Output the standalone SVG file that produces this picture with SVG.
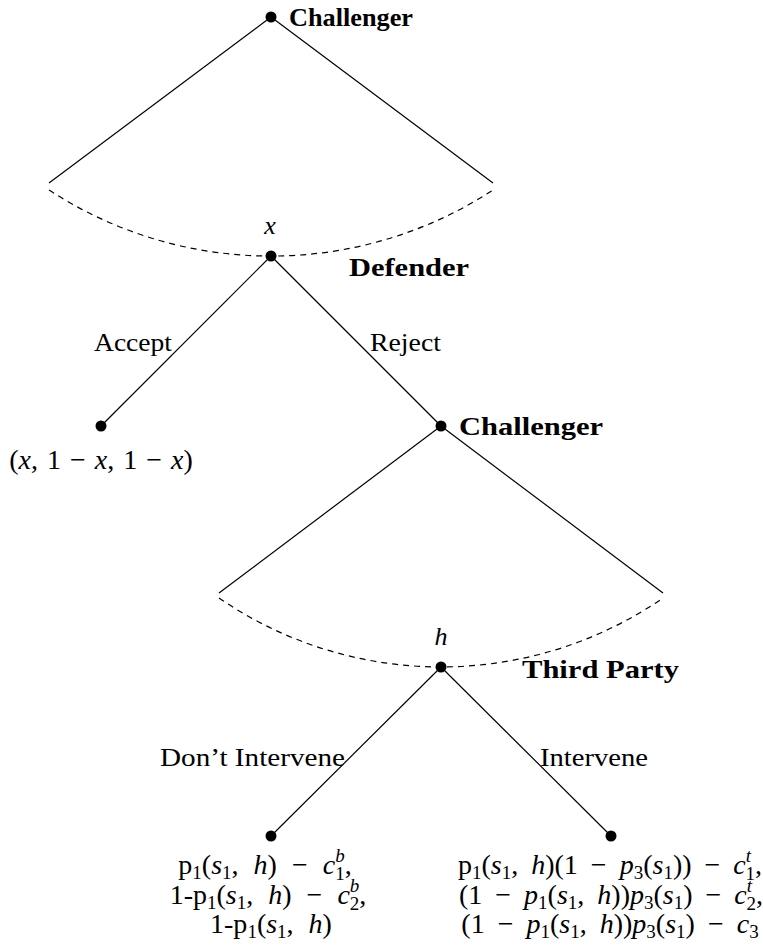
<svg xmlns="http://www.w3.org/2000/svg" width="763" height="949" viewBox="0 0 763 949">
<style>
.t{font-family:"Liberation Serif","DejaVu Serif",serif;font-size:26px;fill:#000}
.m{font-size:28px;word-spacing:6px}
.ml{word-spacing:8px}
.b{font-weight:bold;font-size:26px}
.i{font-style:italic}
.s{font-size:19px}
.e{stroke:#000;stroke-width:1.2;fill:none}
.d{stroke:#000;stroke-width:1.2;fill:none;stroke-dasharray:6 5}
.n{fill:#000}
</style>
<rect width="763" height="949" fill="#fff"/>
<g id="connectors">
<line class="e" x1="271" y1="17" x2="49" y2="183"/>
<line class="e" x1="271" y1="17" x2="493" y2="183"/>
<path class="d" d="M49 190 A406 406 0 0 0 493 190"/>
<line class="e" x1="271" y1="256" x2="101" y2="426"/>
<line class="e" x1="271" y1="256" x2="441" y2="426"/>
<line class="e" x1="441" y1="426" x2="219" y2="593"/>
<line class="e" x1="441" y1="426" x2="663" y2="593"/>
<path class="d" d="M219 598 A392 392 0 0 0 663 598"/>
<line class="e" x1="441" y1="667" x2="271" y2="836"/>
<line class="e" x1="441" y1="667" x2="611" y2="836"/>
<text class="t" x="94" y="351" textLength="78" lengthAdjust="spacingAndGlyphs">Accept</text>
<text class="t" x="370" y="351" textLength="71" lengthAdjust="spacingAndGlyphs">Reject</text>
<text class="t" x="160" y="766" textLength="185" lengthAdjust="spacingAndGlyphs">Don’t Intervene</text>
<text class="t" x="540" y="766" textLength="108" lengthAdjust="spacingAndGlyphs">Intervene</text>
</g>
<g id="n_root">
<circle class="n" cx="271" cy="17" r="5.5"/>
<text class="t b" x="289" y="26" textLength="124" lengthAdjust="spacingAndGlyphs">Challenger</text>
</g>
<g id="n_defender">
<text class="t i" x="270" y="234" text-anchor="middle">x</text>
<circle class="n" cx="271" cy="256" r="5.5"/>
<text class="t b" x="349" y="276" textLength="120" lengthAdjust="spacingAndGlyphs">Defender</text>
</g>
<g id="n_accept">
<circle class="n" cx="101" cy="426" r="5.5"/>
<text class="t m" x="101" y="469" text-anchor="middle" style="word-spacing:2px">(<tspan class="i">x</tspan>, 1 − <tspan class="i">x</tspan>, 1 − <tspan class="i">x</tspan>)</text>
</g>
<g id="n_challenger2">
<circle class="n" cx="441" cy="426" r="5.5"/>
<text class="t b" x="459" y="435" textLength="144" lengthAdjust="spacingAndGlyphs">Challenger</text>
</g>
<g id="n_third">
<text class="t i" x="441" y="645" text-anchor="middle">h</text>
<circle class="n" cx="441" cy="667" r="5.5"/>
<text class="t b" x="522" y="678" textLength="157" lengthAdjust="spacingAndGlyphs">Third Party</text>
</g>
<g id="n_dont">
<circle class="n" cx="271" cy="836" r="5.5"/>
<text class="t m ml" x="265" y="874" text-anchor="middle">p<tspan class="s" dy="5">1</tspan><tspan dy="-5">(</tspan><tspan class="i">s</tspan><tspan class="s" dy="5">1</tspan><tspan dy="-5">, </tspan><tspan class="i">h</tspan>) − <tspan class="i">c</tspan><tspan class="s i" dy="-12">b</tspan><tspan class="s" dx="-9.5" dy="18">1</tspan><tspan dy="-6">,</tspan></text>
<text class="t m ml" x="268" y="904" text-anchor="middle">1-p<tspan class="s" dy="5">1</tspan><tspan dy="-5">(</tspan><tspan class="i">s</tspan><tspan class="s" dy="5">1</tspan><tspan dy="-5">, </tspan><tspan class="i">h</tspan>) − <tspan class="i">c</tspan><tspan class="s i" dy="-12">b</tspan><tspan class="s" dx="-9.5" dy="18">2</tspan><tspan dy="-6">,</tspan></text>
<text class="t m ml" x="271" y="933" text-anchor="middle">1-p<tspan class="s" dy="5">1</tspan><tspan dy="-5">(</tspan><tspan class="i">s</tspan><tspan class="s" dy="5">1</tspan><tspan dy="-5">, </tspan><tspan class="i">h</tspan>)</text>
</g>
<g id="n_intervene">
<circle class="n" cx="611" cy="836" r="5.5"/>
<text class="t m" x="610" y="874" text-anchor="middle">p<tspan class="s" dy="5">1</tspan><tspan dy="-5">(</tspan><tspan class="i">s</tspan><tspan class="s" dy="5">1</tspan><tspan dy="-5">, </tspan><tspan class="i">h</tspan>)(1 − <tspan class="i">p</tspan><tspan class="s" dy="5">3</tspan><tspan dy="-5">(</tspan><tspan class="i">s</tspan><tspan class="s" dy="5">1</tspan><tspan dy="-5">)) − </tspan><tspan class="i">c</tspan><tspan class="s i" dy="-12">t</tspan><tspan class="s" dx="-5.5" dy="18">1</tspan><tspan dy="-6">,</tspan></text>
<text class="t m" x="611" y="904" text-anchor="middle">(1 − <tspan class="i">p</tspan><tspan class="s" dy="5">1</tspan><tspan dy="-5">(</tspan><tspan class="i">s</tspan><tspan class="s" dy="5">1</tspan><tspan dy="-5">, </tspan><tspan class="i">h</tspan>))<tspan class="i">p</tspan><tspan class="s" dy="5">3</tspan><tspan dy="-5">(</tspan><tspan class="i">s</tspan><tspan class="s" dy="5">1</tspan><tspan dy="-5">) − </tspan><tspan class="i">c</tspan><tspan class="s i" dy="-12">t</tspan><tspan class="s" dx="-5.5" dy="18">2</tspan><tspan dy="-6">,</tspan></text>
<text class="t m" x="610" y="933" text-anchor="middle">(1 − <tspan class="i">p</tspan><tspan class="s" dy="5">1</tspan><tspan dy="-5">(</tspan><tspan class="i">s</tspan><tspan class="s" dy="5">1</tspan><tspan dy="-5">, </tspan><tspan class="i">h</tspan>))<tspan class="i">p</tspan><tspan class="s" dy="5">3</tspan><tspan dy="-5">(</tspan><tspan class="i">s</tspan><tspan class="s" dy="5">1</tspan><tspan dy="-5">) − </tspan><tspan class="i">c</tspan><tspan class="s" dy="5">3</tspan></text>
</g>
</svg>
